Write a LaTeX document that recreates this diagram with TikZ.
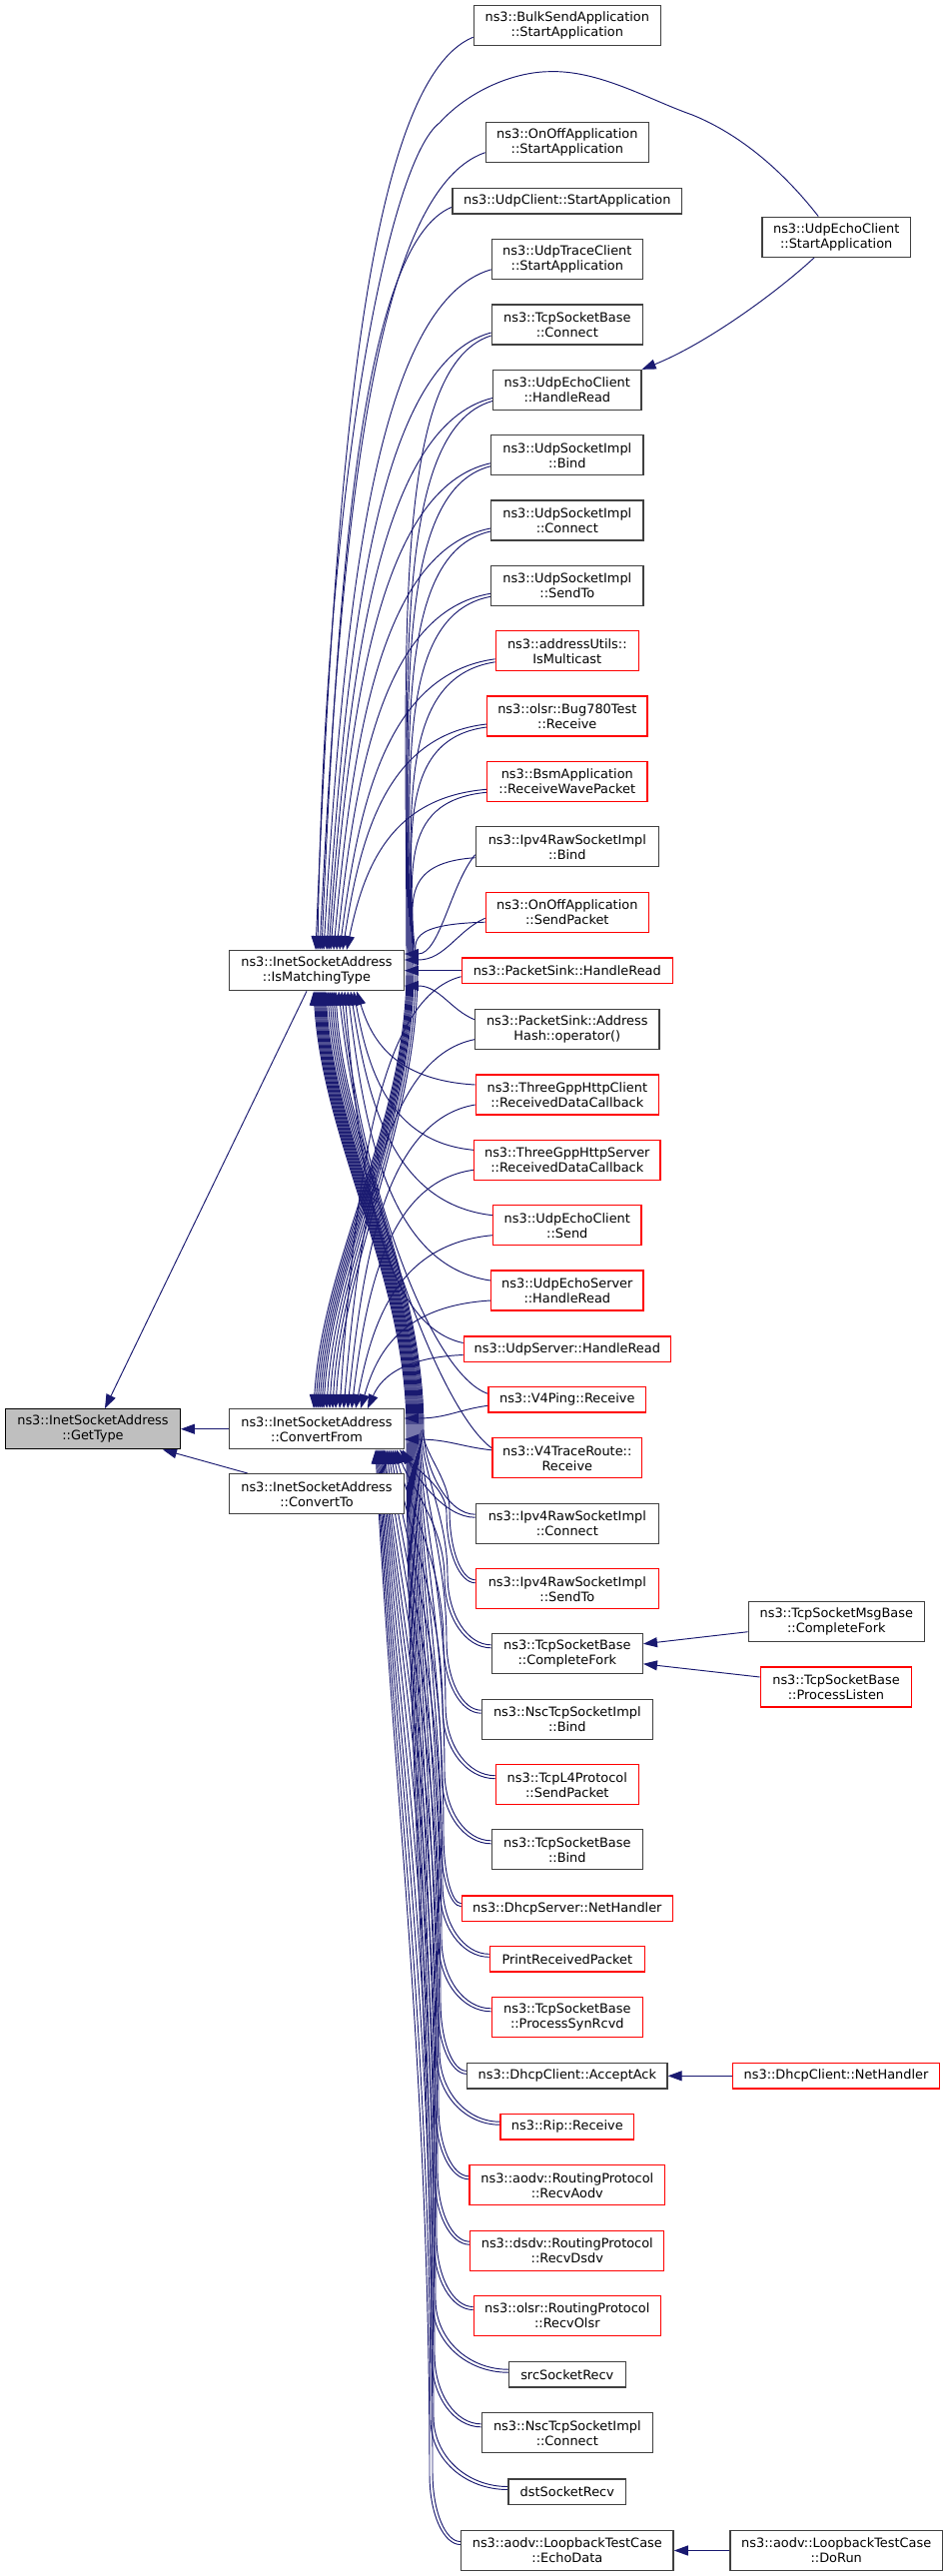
\documentclass[tikz,border=0pt]{standalone}
\usepackage{fontspec}
\newfontfamily\dvfont{DejaVu Sans}
\usetikzlibrary{arrows.meta,calc}
\pgfdeclarelayer{bg}
\pgfsetlayers{bg,main}
\definecolor{edgecol}{HTML}{191970}
\definecolor{gbord}{HTML}{404040}
\definecolor{rootfill}{HTML}{BFBFBF}
% direct edge, vertical arrival
\newcommand\edgV[6]{%
 \pgfmathsetmacro\myax{#3-0.7*(#3-#5)}%
 \pgfmathsetmacro\myay{#4+0.05*(#6-#4)}%
 \pgfmathsetmacro\mybx{#5+0.12*(#3-#5)}%
 \pgfmathsetmacro\myby{#6-0.5*(#6-#4)}%
 \draw[cedge] (#1) .. controls (\myax,\myay) and (\mybx,\myby) .. (#2);}
% direct edge, horizontal arrival
\newcommand\edgH[6]{%
 \pgfmathsetmacro\myax{#3-0.35*(#3-#5)}%
 \pgfmathsetmacro\myay{#4+0.3*(#6-#4)}%
 \pgfmathsetmacro\mybx{#5+0.5*(#3-#5)}%
 \draw[cedge] (#1) .. controls (\myax,\myay) and (\mybx,#6) .. (#2);}
% upper caller -> ConvertFrom top, passing right of IsMatchingType
\newcommand\edgUF[6]{%
 \pgfmathsetmacro\myax{#3-0.7*(#3-#5+60)}%
 \pgfmathsetmacro\myay{#4+0.05*(971.7-#4)}%
 \pgfmathsetmacro\myby{#4+0.5*(971.7-#4)}%
 \pgfmathsetmacro\myex{#6+0.1*(#5-#6)}%
 \draw[cedge] (#1) .. controls (\myax,\myay) and (#5,\myby) .. (#5,971.7)
   .. controls (#5,1125.35) and (\myex,1257.05) .. (#2);}
% lower caller -> IsMatchingType bottom, passing right of ConvertFrom
\newcommand\edgLM[7]{%
 \pgfmathsetmacro\myax{#3-0.55*(#3-#5)}%
 \pgfmathsetmacro\myby{#4-30}%
 \pgfmathsetmacro\myqy{#4-70}%
 \pgfmathsetmacro\myL{#4-70-1430.7}%
 \pgfmathsetmacro\mycy{#4-70-0.4*\myL}%
 \pgfmathsetmacro\mydy{1430.7+0.3*\myL}%
 \pgfmathsetmacro\myex{#7+0.1*(#6-#7)}%
 \draw[cedge] (#1) .. controls (\myax,#4) and (#5,\myby) .. (#5,\myqy)
   .. controls (#5,\mycy) and (#6,\mydy) .. (#6,1430.7)
   .. controls (#6,1277) and (\myex,1145.4) .. (#2);}
% lower caller -> ConvertFrom bottom
\newcommand\edgLF[6]{%
 \pgfmathsetmacro\myax{#3-0.55*(#3-#5)}%
 \pgfmathsetmacro\myby{#4-30}%
 \pgfmathsetmacro\myqy{#4-70}%
 \pgfmathsetmacro\myL{#4-70-1450.7}%
 \pgfmathsetmacro\mycy{#4-70-0.4*\myL}%
 \pgfmathsetmacro\mydy{1450.7+0.3*\myL}%
 \pgfmathsetmacro\myex{#6+15}%
 \draw[cedge] (#1) .. controls (\myax,#4) and (#5,\myby) .. (#5,\myqy)
   .. controls (#5,\mycy) and (\myex,\mydy) .. (#2);}
\begin{document}
\begin{tikzpicture}[x=1pt,y=-1pt,
  nbox/.style={rectangle, draw=gbord, line width=1.3pt, fill=white, inner sep=0pt,
    minimum height=40pt, align=center, text=black,
    font=\dvfont\fontsize{12.9pt}{15pt}\selectfont},
  rbox/.style={nbox, draw=red},
  oneline/.style={minimum height=25.3pt},
  cedge/.style={draw=edgecol, line width=0.95pt, -{Triangle[length=14pt,width=10pt]}}]
\useasboundingbox (0,0) rectangle (949,2579);

% ---- left nodes
\node[nbox, minimum width=174.6pt, draw=black, fill=rootfill] (G) at (93,1430.7) {ns3::InetSocketAddress\\::GetType};
\node[nbox, minimum width=174.6pt] (M) at (317,971.7) {ns3::InetSocketAddress\\::IsMatchingType};
\node[nbox, minimum width=174.6pt] (F) at (317,1430.7) {ns3::InetSocketAddress\\::ConvertFrom};
\node[nbox, minimum width=174.6pt] (T) at (317,1495.7) {ns3::InetSocketAddress\\::ConvertTo};

% ---- caller column
\node[nbox, minimum width=187pt] (bulk) at (567.8,25.2) {ns3::BulkSendApplication\\::StartApplication};
\node[nbox, minimum width=163pt] (onoffstart) at (567.8,142.7) {ns3::OnOffApplication\\::StartApplication};
\node[nbox, oneline, minimum width=229.7pt] (udpclient) at (567.8,201.3) {ns3::UdpClient::StartApplication};
\node[nbox, minimum width=151pt] (udptrace) at (567.8,259.8) {ns3::UdpTraceClient\\::StartApplication};
\node[nbox, minimum width=151pt] (tcpconnect) at (567.8,325) {ns3::TcpSocketBase\\::Connect};
\node[nbox, minimum width=148.3pt] (echohandle) at (567.8,390.5) {ns3::UdpEchoClient\\::HandleRead};
\node[nbox, minimum width=148.3pt] (echostart) at (837.2,237.2) {ns3::UdpEchoClient\\::StartApplication};
\node[nbox, minimum width=152.3pt] (udpbind) at (567.8,455.8) {ns3::UdpSocketImpl\\::Bind};
\node[nbox, minimum width=152.3pt] (udpconnect) at (567.8,521) {ns3::UdpSocketImpl\\::Connect};
\node[nbox, minimum width=152.3pt] (udpsendto) at (567.8,586.3) {ns3::UdpSocketImpl\\::SendTo};
\node[rbox, minimum width=143pt] (ismulticast) at (567.8,651.8) {ns3::addressUtils::\\IsMulticast};
\node[rbox, minimum width=160.3pt] (bug780) at (567.8,717) {ns3::olsr::Bug780Test\\::Receive};
\node[rbox, minimum width=160.3pt] (bsm) at (567.8,782.3) {ns3::BsmApplication\\::ReceiveWavePacket};
\node[nbox, minimum width=183pt] (rawbind) at (567.8,847.7) {ns3::Ipv4RawSocketImpl\\::Bind};
\node[rbox, minimum width=163pt] (onoffsend) at (567.8,913.2) {ns3::OnOffApplication\\::SendPacket};
\node[rbox, oneline, minimum width=211pt] (sinkread) at (567.8,971.7) {ns3::PacketSink::HandleRead};
\node[nbox, minimum width=184.6pt] (addrhash) at (567.8,1030.7) {ns3::PacketSink::Address\\Hash::operator()};
\node[rbox, minimum width=183pt] (httpclient) at (567.8,1096) {ns3::ThreeGppHttpClient\\::ReceivedDataCallback};
\node[rbox, minimum width=186.6pt] (httpserver) at (567.8,1161.3) {ns3::ThreeGppHttpServer\\::ReceivedDataCallback};
\node[rbox, minimum width=148.3pt] (echosend) at (567.8,1226.7) {ns3::UdpEchoClient\\::Send};
\node[rbox, minimum width=152.3pt] (echoserver) at (567.8,1292) {ns3::UdpEchoServer\\::HandleRead};
\node[rbox, oneline, minimum width=207pt] (udpserver) at (567.8,1350.5) {ns3::UdpServer::HandleRead};
\node[rbox, oneline, minimum width=157.7pt] (v4ping) at (567.8,1401.3) {ns3::V4Ping::Receive};
\node[rbox, minimum width=149.7pt] (v4trace) at (567.8,1459.8) {ns3::V4TraceRoute::\\Receive};
\node[nbox, minimum width=183pt] (rawconnect) at (567.8,1525.2) {ns3::Ipv4RawSocketImpl\\::Connect};
\node[rbox, minimum width=183pt] (rawsendto) at (567.8,1590.7) {ns3::Ipv4RawSocketImpl\\::SendTo};
\node[nbox, minimum width=151pt] (completefork) at (567.8,1655.8) {ns3::TcpSocketBase\\::CompleteFork};
\node[nbox, minimum width=176pt] (msgfork) at (837.3,1623.7) {ns3::TcpSocketMsgBase\\::CompleteFork};
\node[rbox, minimum width=151.4pt] (processlisten) at (837,1689) {ns3::TcpSocketBase\\::ProcessListen};
\node[nbox, minimum width=171pt] (nscbind) at (567.8,1721.2) {ns3::NscTcpSocketImpl\\::Bind};
\node[rbox, minimum width=143pt] (tcpl4) at (567.8,1786.7) {ns3::TcpL4Protocol\\::SendPacket};
\node[nbox, minimum width=151pt] (tcpbind) at (567.8,1851.8) {ns3::TcpSocketBase\\::Bind};
\node[rbox, oneline, minimum width=211pt] (dhcpserver) at (567.8,1910.7) {ns3::DhcpServer::NetHandler};
\node[rbox, oneline, minimum width=155pt] (printrecv) at (567.8,1961.3) {PrintReceivedPacket};
\node[rbox, minimum width=151pt] (synrcvd) at (567.8,2019.8) {ns3::TcpSocketBase\\::ProcessSynRcvd};
\node[nbox, oneline, minimum width=200.3pt] (acceptack) at (567.8,2078.3) {ns3::DhcpClient::AcceptAck};
\node[rbox, oneline, minimum width=207.4pt] (dhcpnet) at (837,2078.3) {ns3::DhcpClient::NetHandler};
\node[rbox, oneline, minimum width=133.7pt] (rip) at (567.8,2129.2) {ns3::Rip::Receive};
\node[rbox, minimum width=195.4pt] (aodv) at (567.8,2187.8) {ns3::aodv::RoutingProtocol\\::RecvAodv};
\node[rbox, minimum width=194pt] (dsdv) at (567.8,2253.2) {ns3::dsdv::RoutingProtocol\\::RecvDsdv};
\node[rbox, minimum width=187pt] (olsr) at (567.8,2318.5) {ns3::olsr::RoutingProtocol\\::RecvOlsr};
\node[nbox, oneline, minimum width=116.7pt] (srcrecv) at (567.8,2377.2) {srcSocketRecv};
\node[nbox, minimum width=171pt] (nscconnect) at (567.8,2435.8) {ns3::NscTcpSocketImpl\\::Connect};
\node[nbox, oneline, minimum width=117.7pt] (dstrecv) at (567.8,2494.5) {dstSocketRecv};
\node[nbox, minimum width=212.6pt] (echodata) at (567.8,2553.5) {ns3::aodv::LoopbackTestCase\\::EchoData};
\node[nbox, minimum width=212.3pt] (dorun) at (837.2,2553.5) {ns3::aodv::LoopbackTestCase\\::DoRun};

\begin{pgfonlayer}{bg}
\fill[white] (0,0) rectangle (949,2579);
% ---- to GetType
\draw[cedge] ($(M.south)+(-10,0)$) -- ($(G.north)+(12,0)$);
\draw[cedge] (F.west) -- (G.east);
\draw[cedge] ($(T.north)+(-69,0)$) -- ($(G.south)+(70,0)$);
% ---- third level
\draw[cedge] ($(echostart.south)+(-22,0)$) .. controls (775,295) and (705,345) .. (echohandle.north east);
\draw[cedge] ($(msgfork.west)+(0,10)$) -- ($(completefork.east)+(0,-10)$);
\draw[cedge] ($(processlisten.west)+(0,-10)$) -- ($(completefork.east)+(0,10)$);
\draw[cedge] (dhcpnet.west) -- (acceptack.east);
\draw[cedge] (dorun.west) -- (echodata.east);
% ---- upper callers, IsMatchingType only
\edgV{$(bulk.west)+(0,12)$}{$(M.north)+(-1,0)$}{474.3}{37.2}{316}{951.7}
\edgV{$(onoffstart.west)+(0,10)$}{$(M.north)+(3,0)$}{486.3}{152.7}{320}{951.7}
\edgV{$(udpclient.west)+(0,6)$}{$(M.north)+(5,0)$}{453}{207.3}{322}{951.7}
\edgV{$(udptrace.west)+(0,10)$}{$(M.north)+(7,0)$}{492.3}{269.8}{324}{951.7}
\draw[cedge] ($(echostart.north)+(-18,0)$) .. controls (775,160) and (730,130) .. (693,115)
  .. controls (650,100) and (600,70) .. (550,71.7)
  .. controls (515,72) and (470,90) .. (440,123)
  .. controls (390,160) and (325,480) .. ($(M.north)+(1,0)$);
% ---- upper callers, both
\edgV{$(tcpconnect.west)+(0,8)$}{$(M.north)+(10,0)$}{492.3}{333}{327}{951.7}
\edgUF{$(tcpconnect.west)+(0,11)$}{$(F.north)+(-3,0)$}{492.3}{336}{407}{314}
\edgV{$(echohandle.west)+(0,8)$}{$(M.north)+(12,0)$}{493.7}{398.5}{329}{951.7}
\edgUF{$(echohandle.west)+(0,11)$}{$(F.north)+(-1,0)$}{493.7}{401.5}{408}{316}
\edgV{$(udpbind.west)+(0,8)$}{$(M.north)+(14,0)$}{491.7}{463.8}{331}{951.7}
\edgUF{$(udpbind.west)+(0,11)$}{$(F.north)+(1,0)$}{491.7}{466.8}{409}{318}
\edgV{$(udpconnect.west)+(0,8)$}{$(M.north)+(17,0)$}{491.7}{529}{334}{951.7}
\edgUF{$(udpconnect.west)+(0,11)$}{$(F.north)+(3,0)$}{491.7}{532}{410}{320}
\edgV{$(udpsendto.west)+(0,8)$}{$(M.north)+(20,0)$}{491.7}{594.3}{337}{951.7}
\edgUF{$(udpsendto.west)+(0,11)$}{$(F.north)+(5,0)$}{491.7}{597.3}{411}{322}
\edgV{$(ismulticast.west)+(0,8)$}{$(M.north)+(23,0)$}{496.3}{659.8}{340}{951.7}
\edgUF{$(ismulticast.west)+(0,11)$}{$(F.north)+(7,0)$}{496.3}{662.8}{412}{324}
\edgV{$(bug780.west)+(0,8)$}{$(M.north)+(26,0)$}{487.7}{725}{343}{951.7}
\edgUF{$(bug780.west)+(0,11)$}{$(F.north)+(10,0)$}{487.7}{728}{413}{327}
\edgV{$(bsm.west)+(0,8)$}{$(M.north)+(30,0)$}{487.7}{790.3}{347}{951.7}
\edgUF{$(bsm.west)+(0,11)$}{$(F.north)+(13,0)$}{487.7}{793.3}{414}{330}
\edgH{$(rawbind.west)+(0,8)$}{$(M.east)+(0,-16.7)$}{476.3}{855.7}{404.3}{955}
\edgUF{$(rawbind.west)+(0,11)$}{$(F.north)+(16,0)$}{476.3}{858.7}{416}{333}
\edgH{$(onoffsend.west)+(0,6)$}{$(M.east)+(0,-10.7)$}{486.3}{919.2}{404.3}{961}
\edgUF{$(onoffsend.west)+(0,10)$}{$(F.north)+(19,0)$}{486.3}{923.2}{418}{336}
\draw[cedge] (sinkread.west) -- (M.east);
\edgV{$(sinkread.west)+(0,6)$}{$(F.north)+(23,0)$}{462.3}{977.7}{340}{1410.7}
% ---- callers between the two
\edgH{$(addrhash.west)+(0,-10)$}{$(M.east)+(0,15.3)$}{475.5}{1020.7}{404.3}{987}
\edgV{$(addrhash.west)+(0,10)$}{$(F.north)+(27,0)$}{475.5}{1040.7}{344}{1410.7}
\edgV{$(httpclient.west)+(0,-10)$}{$(M.south)+(40,0)$}{476.3}{1086}{357}{991.7}
\edgV{$(httpclient.west)+(0,10)$}{$(F.north)+(31,0)$}{476.3}{1106}{348}{1410.7}
\edgV{$(httpserver.west)+(0,-10)$}{$(M.south)+(37,0)$}{474.5}{1151.3}{354}{991.7}
\edgV{$(httpserver.west)+(0,10)$}{$(F.north)+(35,0)$}{474.5}{1171.3}{352}{1410.7}
\edgV{$(echosend.west)+(0,-10)$}{$(M.south)+(34,0)$}{493.7}{1216.7}{351}{991.7}
\edgV{$(echosend.west)+(0,10)$}{$(F.north)+(39,0)$}{493.7}{1236.7}{356}{1410.7}
\edgV{$(echoserver.west)+(0,-10)$}{$(M.south)+(31,0)$}{491.7}{1282}{348}{991.7}
\edgV{$(echoserver.west)+(0,10)$}{$(F.north)+(44,0)$}{491.7}{1302}{361}{1410.7}
\edgV{$(udpserver.west)+(0,-6)$}{$(M.south)+(28,0)$}{464.3}{1344.5}{345}{991.7}
\edgV{$(udpserver.west)+(0,6)$}{$(F.north)+(51,0)$}{464.3}{1356.5}{368}{1410.7}
\draw[cedge] ($(v4ping.west)+(0,-6)$) .. controls (430,1375) and (360,1180) .. ($(M.south)+(25,0)$);
\edgH{$(v4ping.west)+(0,6)$}{$(F.east)+(0,-10.7)$}{489}{1407.3}{404.3}{1420}
\draw[cedge] ($(v4trace.west)+(0,-10)$) .. controls (440,1412) and (362,1200) .. ($(M.south)+(22,0)$);
\edgH{$(v4trace.west)+(0,-8)$}{$(F.east)+(0,10.3)$}{493}{1451.8}{404.3}{1441}
% ---- lower callers
\draw[cedge] ($(rawconnect.west)+(0,-9)$) .. controls (448,1516.2) and (424,1470) .. (424,1430.7)
  .. controls (424,1277) and (344.8,1145.4) .. ($(M.south)+(19,0)$);
\draw[cedge] ($(rawconnect.west)+(0,-6)$) .. controls (445,1519.2) and (418,1480) .. ($(F.south)+(86,0)$);
\edgLM{$(rawsendto.west)+(0,-9)$}{$(M.south)+(17,0)$}{476.3}{1581.7}{450}{423}{334}
\edgLF{$(rawsendto.west)+(0,-6)$}{$(F.south)+(83,0)$}{476.3}{1584.7}{447}{400}
\edgLM{$(completefork.west)+(0,-9)$}{$(M.south)+(15,0)$}{492.3}{1646.8}{448}{422}{332}
\edgLF{$(completefork.west)+(0,-6)$}{$(F.south)+(80,0)$}{492.3}{1649.8}{445}{397}
\edgLM{$(nscbind.west)+(0,-9)$}{$(M.south)+(13,0)$}{482.3}{1712.2}{447}{421}{330}
\edgLF{$(nscbind.west)+(0,-6)$}{$(F.south)+(78,0)$}{482.3}{1715.2}{444}{395}
\edgLM{$(tcpl4.west)+(0,-9)$}{$(M.south)+(11,0)$}{496.3}{1777.7}{446}{420}{328}
\edgLF{$(tcpl4.west)+(0,-6)$}{$(F.south)+(76,0)$}{496.3}{1780.7}{443}{393}
\edgLM{$(tcpbind.west)+(0,-9)$}{$(M.south)+(9,0)$}{492.3}{1842.8}{445}{419}{326}
\edgLF{$(tcpbind.west)+(0,-6)$}{$(F.south)+(74,0)$}{492.3}{1845.8}{442}{391}
\edgLM{$(dhcpserver.west)+(0,-5)$}{$(M.south)+(8,0)$}{462.3}{1905.7}{444}{418}{325}
\edgLF{$(dhcpserver.west)+(0,-2)$}{$(F.south)+(72,0)$}{462.3}{1908.7}{441}{389}
\edgLM{$(printrecv.west)+(0,-5)$}{$(M.south)+(7,0)$}{490.3}{1956.3}{443}{417}{324}
\edgLF{$(printrecv.west)+(0,-2)$}{$(F.south)+(70,0)$}{490.3}{1959.3}{440}{387}
\edgLM{$(synrcvd.west)+(0,-9)$}{$(M.south)+(6,0)$}{492.3}{2010.8}{442}{416}{323}
\edgLF{$(synrcvd.west)+(0,-6)$}{$(F.south)+(68,0)$}{492.3}{2013.8}{439}{385}
\edgLM{$(acceptack.west)+(0,-5)$}{$(M.south)+(5,0)$}{467.7}{2073.3}{441}{415}{322}
\edgLF{$(acceptack.west)+(0,-2)$}{$(F.south)+(67,0)$}{467.7}{2076.3}{438}{384}
\edgLM{$(rip.west)+(0,-5)$}{$(M.south)+(4,0)$}{501}{2124.2}{440}{414}{321}
\edgLF{$(rip.west)+(0,-2)$}{$(F.south)+(66,0)$}{501}{2127.2}{437}{383}
\edgLM{$(aodv.west)+(0,-9)$}{$(M.south)+(3,0)$}{470.1}{2178.8}{439}{413}{320}
\edgLF{$(aodv.west)+(0,-6)$}{$(F.south)+(65,0)$}{470.1}{2181.8}{436}{382}
\edgLM{$(dsdv.west)+(0,-9)$}{$(M.south)+(2,0)$}{470.8}{2244.2}{438}{412}{319}
\edgLF{$(dsdv.west)+(0,-6)$}{$(F.south)+(64,0)$}{470.8}{2247.2}{435}{381}
\edgLM{$(olsr.west)+(0,-9)$}{$(M.south)+(1,0)$}{474.3}{2309.5}{437}{411}{318}
\edgLF{$(olsr.west)+(0,-6)$}{$(F.south)+(63,0)$}{474.3}{2312.5}{434}{380}
\edgLM{$(srcrecv.west)+(0,-5)$}{$(M.south)+(0,0)$}{509.45}{2372.2}{436}{410}{317}
\edgLF{$(srcrecv.west)+(0,-2)$}{$(F.south)+(62,0)$}{509.45}{2375.2}{433}{379}
\edgLM{$(nscconnect.west)+(0,-9)$}{$(M.south)+(-1,0)$}{482.3}{2426.8}{435}{409}{316}
\edgLF{$(nscconnect.west)+(0,-6)$}{$(F.south)+(61,0)$}{482.3}{2429.8}{432}{378}
\edgLM{$(dstrecv.west)+(0,-5)$}{$(M.south)+(-2,0)$}{508.95}{2489.5}{434}{408}{315}
\edgLF{$(dstrecv.west)+(0,-2)$}{$(F.south)+(60,0)$}{508.95}{2492.5}{431}{377}
\edgLM{$(echodata.west)+(0,-9)$}{$(M.south)+(-3,0)$}{461.5}{2544.5}{433}{407}{314}
\edgLF{$(echodata.west)+(0,-6)$}{$(F.south)+(59,0)$}{461.5}{2547.5}{430}{376}
\end{pgfonlayer}
\end{tikzpicture}
\end{document}
